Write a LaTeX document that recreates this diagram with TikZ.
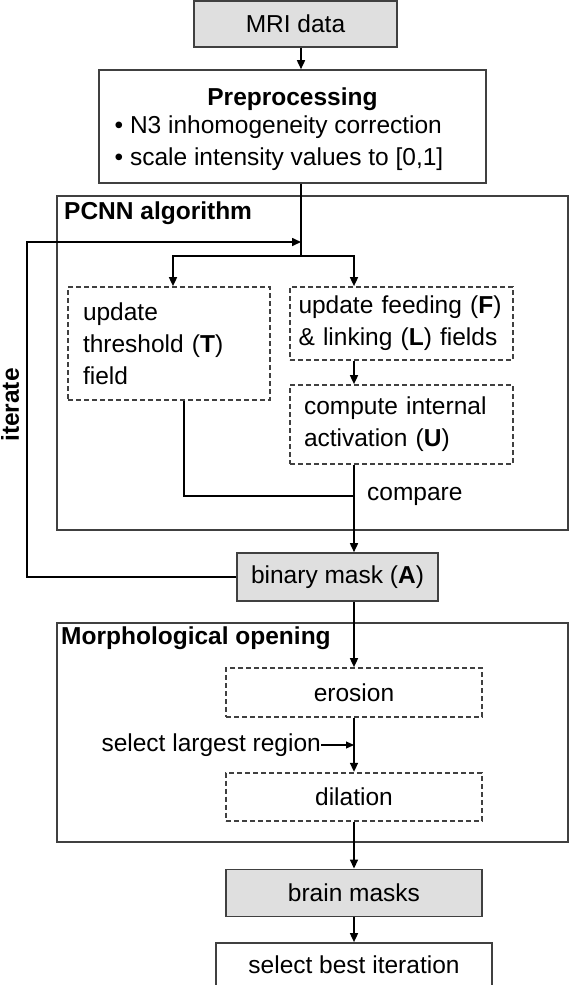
\documentclass[tikz,border=0pt]{standalone}
\usepackage{fontspec}
\setmainfont{Liberation Sans}
\usetikzlibrary{arrows.meta,positioning}

\begin{document}
\begin{tikzpicture}[
    x=1pt,y=-1pt,
    every node/.style={font=\fontsize{24.5}{32}\selectfont,inner sep=0pt},
    title/.style={font=\fontsize{24.5}{32}\selectfont\bfseries},
    box/.style={draw=black!75,line width=1.6pt,minimum height=47pt},
    grey/.style={box,fill=gray!25},
    stage/.style={draw=black!75,line width=1.7pt,dash pattern=on 5pt off 3pt},
    flow/.style={line width=1.6pt,-{Triangle[length=9pt,width=8pt]}},
    plain/.style={line width=1.6pt},
    thinflow/.style={line width=1.1pt,-{Triangle[length=8pt,width=7pt]}}
  ]
  \useasboundingbox (0,0) rectangle (569,985);

  \node[grey,minimum width=203pt,minimum height=46pt] (mri) at (295.5,24) {MRI data};
  \node[box,minimum width=387pt,minimum height=113pt] (pre) at (292.5,126.5) {};
  \node[align=center] (pretext) at ([yshift=-5pt]pre.center)
    {\textbf{Preprocessing}\\
     \begin{tabular}{@{}l@{}}\textbullet\ N3 inhomogeneity correction\\ \textbullet\ scale intensity values to [0,1]\end{tabular}\hspace*{27pt}};

  \node[box,minimum width=511pt,minimum height=334pt] (pcnn) at (312.5,363) {};
  \node[title,anchor=west] (pcnntitle) at (64,213) {PCNN algorithm};

  \coordinate (loop) at (301,242);
  \coordinate (split) at (301,256);
  \coordinate (rbr) at (354,256);

  \node[stage,minimum width=202pt,minimum height=113pt,text width=172pt,align=left] (thr) at (169,343.5)
    {update\\threshold (\textbf{T})\\field};
  \node[stage,minimum width=223pt,minimum height=73pt,text width=206pt,align=left] (feed) at (401.5,323.5)
    {update feeding (\textbf{F})\\\& linking (\textbf{L}) fields};
  \node[stage,minimum width=223pt,minimum height=79pt,text width=195pt,align=left] (comp) at (401.5,424.5)
    {compute internal\\activation (\textbf{U})};

  \coordinate (cmp) at (354,496);
  \node[anchor=west] (cmplabel) at ([xshift=13pt]cmp) {compare};

  \node[grey,minimum width=201pt,minimum height=48pt] (bin) at (337.5,577) {binary mask (\textbf{A})};

  \coordinate (back) at (27,577);
  \coordinate (backtop) at (27,242);
  \node[title,rotate=90] (iter) at (10,405) {iterate};

  \node[box,minimum width=511pt,minimum height=219pt] (morph) at (312.5,732.5) {};
  \node[title,anchor=west] (morphtitle) at (61,638) {Morphological opening};

  \node[stage,minimum width=256pt,minimum height=49pt] (ero) at (354,692.5) {erosion};
  \node[stage,minimum width=256pt,minimum height=48pt,below=54pt of ero] (dil) {dilation};
  \node[anchor=east] (sel) at (321,745) {select largest region};
  \node[grey,minimum width=256pt,minimum height=47pt,below=47pt of dil] (brain) {brain masks};
  \node[box,minimum width=276pt,minimum height=44pt,below=25pt of brain] (best) {select best iteration};

  \draw[flow] (mri.south -| split) -- (pre.north -| split);
  \draw[plain] (pre.south -| split) -- (split);
  \draw[flow] (split) -| ([xshift=4pt]thr.north);
  \draw[flow] (split) -- (rbr) -- (rbr |- feed.north);
  \draw[flow] (feed.south -| rbr) -- (comp.north -| rbr);
  \draw[line width=1.1pt] ([xshift=15pt]thr.south) |- (cmp);
  \draw[flow] (comp.south -| rbr) -- (bin.north -| rbr);
  \draw[flow] (bin.west) -- (back) -- (backtop) -- (loop);
  \draw[flow] (bin.south -| ero) -- (ero.north);
  \draw[flow] (ero.south) -- (dil.north);
  \draw[thinflow] (sel.east) -- (sel.east -| ero.south);
  \draw[flow] (dil.south) -- (brain.north);
  \draw[flow] (brain.south) -- (best.north);
\end{tikzpicture}
\end{document}
